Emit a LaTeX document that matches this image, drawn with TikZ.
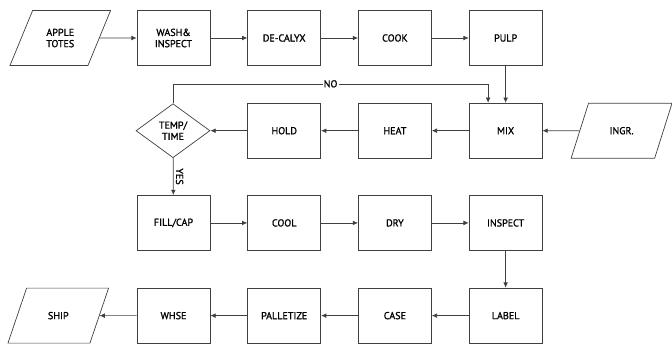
\documentclass[tikz,border=0pt]{standalone}
\usepackage{fontspec}
\setmainfont{PT Sans}
\usetikzlibrary{arrows.meta, positioning, shapes.geometric}

\begin{document}
\begin{tikzpicture}[
    >={Latex[length=4.5pt, width=4pt]}, % Set default arrow tip style
    node distance=1.11cm and 1.11cm,
    every node/.style={font=\fontsize{8.6}{9.6}\selectfont\addfontfeatures{FakeBold=1.2}},
    stepbox/.style={draw=black!75, line width=0.6pt, minimum width=2.19cm,
     minimum height=1.65cm, align=center}, % Style for process boxes
    iobox/.style={draw=black!75, line width=0.6pt, trapezium,
     trapezium left angle=61, trapezium right angle=119, trapezium stretches=true,
     minimum width=3.03cm, minimum height=1.65cm, align=center}, % Style for inputs/outputs
    checkbox/.style={draw=black!75, line width=0.6pt, diamond, inner sep=0pt,
     minimum width=2.22cm, minimum height=1.62cm, align=center}, % Style for decision
    flow/.style={->, draw=black!75, line width=0.6pt} % Style for connectors
]

    % Fixed picture size
    \useasboundingbox (-5.205, 1.14) rectangle (14.955, -9.21);

    % Row 1: intake
    \node[stepbox] (wash) at (0, 0) {WASH\&\\INSPECT};
    \node[iobox, left=of wash] (totes) {APPLE\\TOTES};
    \node[stepbox, right=of wash] (decalyx) {DE-CALYX};
    \node[stepbox, right=of decalyx] (cook) {COOK};
    \node[stepbox, right=of cook] (pulp) {PULP};

    % Row 2: mixing and heating
    \node[stepbox, below=of pulp] (mix) {MIX};
    \node[iobox, right=of mix] (ingr) {INGR.};
    \node[stepbox, left=of mix] (heat) {HEAT};
    \node[stepbox, left=of heat] (hold) {HOLD};
    \node[checkbox, left=of hold] (temp) {TEMP/\\TIME};

    % Row 3: filling
    \node[stepbox, below=of wash |- temp.south] (fill) {FILL/CAP};
    \node[stepbox, right=of fill] (cool) {COOL};
    \node[stepbox, right=of cool] (dry) {DRY};
    \node[stepbox, right=of dry] (inspect) {INSPECT};

    % Row 4: packing
    \node[stepbox, below=of inspect] (label) {LABEL};
    \node[stepbox, left=of label] (case) {CASE};
    \node[stepbox, left=of case] (pallet) {PALLETIZE};
    \node[stepbox, left=of pallet] (whse) {WHSE};
    \node[iobox, left=of whse] (ship) {SHIP};

    % Connectors
    \draw[flow] (totes) -- (wash);
    \draw[flow] (wash) -- (decalyx);
    \draw[flow] (decalyx) -- (cook);
    \draw[flow] (cook) -- (pulp);
    \draw[flow] (pulp) -- (mix);
    \draw[flow] (ingr) -- (mix);
    \draw[flow] (mix) -- (heat);
    \draw[flow] (heat) -- (hold);
    \draw[flow] (hold) -- (temp);
    \draw[flow] (temp.north) |- ([xshift=-0.525cm, yshift=0.57cm]mix.north)
        node[pos=0.75, fill=white, inner sep=1pt] {NO} -- ([xshift=-0.525cm]mix.north);
    \draw[flow] (temp) -- (fill) node[midway, anchor=south, rotate=-90, inner sep=2pt] {YES};
    \draw[flow] (fill) -- (cool);
    \draw[flow] (cool) -- (dry);
    \draw[flow] (dry) -- (inspect);
    \draw[flow] (inspect) -- (label);
    \draw[flow] (label) -- (case);
    \draw[flow] (case) -- (pallet);
    \draw[flow] (pallet) -- (whse);
    \draw[flow] (whse) -- (ship);

\end{tikzpicture}
\end{document}
